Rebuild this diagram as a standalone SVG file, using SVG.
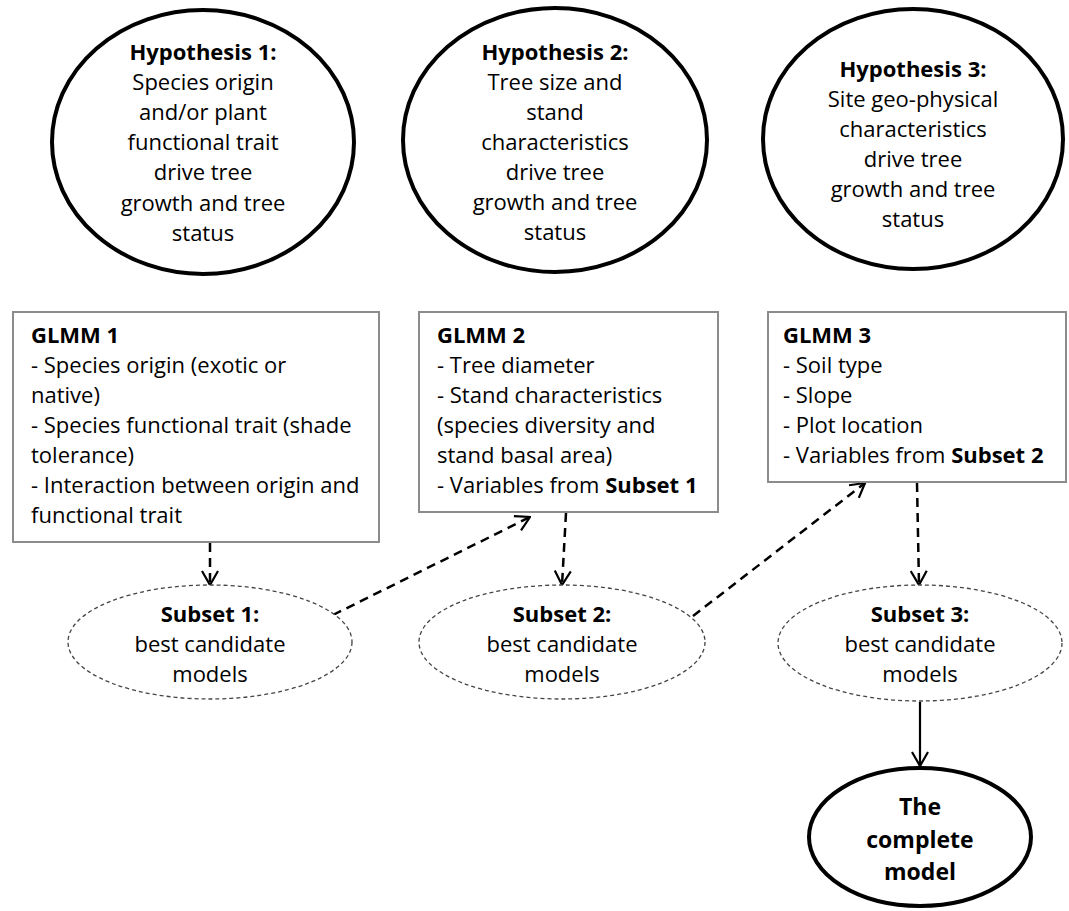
<svg xmlns="http://www.w3.org/2000/svg" width="1069" height="911" viewBox="0 0 1069 911">
<defs>
<style>
.hyp{fill:#fff;stroke:#000;stroke-width:4}
.box{fill:#fff;stroke:#8c8c8c;stroke-width:2}
.sub{fill:#fff;stroke:#444;stroke-width:1.3;stroke-dasharray:4 3}
.t{font-family:"Open Sans","Liberation Sans",sans-serif;font-size:22px;fill:#000}
.c{text-anchor:middle}
.b{font-weight:bold}
.dash{fill:none;stroke:#000;stroke-width:2.5;stroke-dasharray:9 6}
.solid{fill:none;stroke:#000;stroke-width:2.2}
</style>
<marker id="arr" viewBox="0 0 16 18" refX="15" refY="9" markerWidth="16" markerHeight="18" markerUnits="userSpaceOnUse" orient="auto">
<path d="M1,1 L15,9 L1,17" fill="none" stroke="#000" stroke-width="2.2"/>
</marker>
</defs>
<rect width="1069" height="911" fill="#fff"/>

<g id="connectors">
<line class="dash" x1="210" y1="543" x2="210" y2="585" marker-end="url(#arr)"/>
<line class="dash" x1="333" y1="615" x2="530" y2="517" marker-end="url(#arr)"/>
<line class="dash" x1="566" y1="513" x2="562" y2="585" marker-end="url(#arr)"/>
<line class="dash" x1="693" y1="616" x2="865" y2="483" marker-end="url(#arr)"/>
<line class="dash" x1="917" y1="483" x2="919" y2="585" marker-end="url(#arr)"/>
<line class="solid" x1="920" y1="702" x2="920" y2="766" marker-end="url(#arr)"/>
</g>

<g id="hyp1">
<ellipse class="hyp" cx="203" cy="142" rx="151" ry="132"/>
<text class="t c" x="203" y="60"><tspan class="b">Hypothesis 1:</tspan><tspan x="203" y="90">Species origin</tspan><tspan x="203" y="120">and/or plant</tspan><tspan x="203" y="150">functional trait</tspan><tspan x="203" y="180">drive tree</tspan><tspan x="203" y="211">growth and tree</tspan><tspan x="203" y="241">status</tspan></text>
</g>
<g id="hyp2">
<ellipse class="hyp" cx="555" cy="140" rx="152" ry="132"/>
<text class="t c" x="555" y="60"><tspan class="b">Hypothesis 2:</tspan><tspan x="555" y="90">Tree size and</tspan><tspan x="555" y="120">stand</tspan><tspan x="555" y="150">characteristics</tspan><tspan x="555" y="180">drive tree</tspan><tspan x="555" y="210">growth and tree</tspan><tspan x="555" y="240">status</tspan></text>
</g>
<g id="hyp3">
<ellipse class="hyp" cx="913" cy="139" rx="150" ry="130"/>
<text class="t c" x="913" y="77"><tspan class="b">Hypothesis 3:</tspan><tspan x="913" y="107">Site geo-physical</tspan><tspan x="913" y="137">characteristics</tspan><tspan x="913" y="167">drive tree</tspan><tspan x="913" y="197">growth and tree</tspan><tspan x="913" y="227">status</tspan></text>
</g>

<g id="glmm1">
<rect class="box" x="13" y="312" width="366" height="230"/>
<text class="t" x="31" y="343"><tspan class="b">GLMM 1</tspan><tspan x="31" y="373">- Species origin (exotic or</tspan><tspan x="31" y="403">native)</tspan><tspan x="31" y="433">- Species functional trait (shade</tspan><tspan x="31" y="463">tolerance)</tspan><tspan x="31" y="493">- Interaction between origin and</tspan><tspan x="31" y="523">functional trait</tspan></text>
</g>
<g id="glmm2">
<rect class="box" x="419" y="312" width="299" height="200"/>
<text class="t" x="437" y="343"><tspan class="b">GLMM 2</tspan><tspan x="437" y="373">- Tree diameter</tspan><tspan x="437" y="403">- Stand characteristics</tspan><tspan x="437" y="433">(species diversity and</tspan><tspan x="437" y="463">stand basal area)</tspan><tspan x="437" y="493">- Variables from <tspan class="b">Subset 1</tspan></tspan></text>
</g>
<g id="glmm3">
<rect class="box" x="768" y="312" width="298" height="170"/>
<text class="t" x="783" y="343"><tspan class="b">GLMM 3</tspan><tspan x="783" y="373">- Soil type</tspan><tspan x="783" y="403">- Slope</tspan><tspan x="783" y="433">- Plot location</tspan><tspan x="783" y="463">- Variables from <tspan class="b">Subset 2</tspan></tspan></text>
</g>

<g id="subset1">
<ellipse class="sub" cx="210" cy="642" rx="142" ry="57"/>
<text class="t c" x="210" y="622"><tspan class="b">Subset 1:</tspan><tspan x="210" y="652">best candidate</tspan><tspan x="210" y="682">models</tspan></text>
</g>
<g id="subset2">
<ellipse class="sub" cx="562" cy="642" rx="143" ry="57"/>
<text class="t c" x="562" y="622"><tspan class="b">Subset 2:</tspan><tspan x="562" y="652">best candidate</tspan><tspan x="562" y="682">models</tspan></text>
</g>
<g id="subset3">
<ellipse class="sub" cx="920" cy="643" rx="142" ry="58"/>
<text class="t c" x="920" y="622"><tspan class="b">Subset 3:</tspan><tspan x="920" y="652">best candidate</tspan><tspan x="920" y="682">models</tspan></text>
</g>

<g id="complete">
<ellipse class="hyp" cx="920" cy="837" rx="111" ry="69"/>
<text class="t c b" x="920" y="815" style="font-size:23px"><tspan>The</tspan><tspan x="920" y="848">complete</tspan><tspan x="920" y="880">model</tspan></text>
</g>
</svg>
